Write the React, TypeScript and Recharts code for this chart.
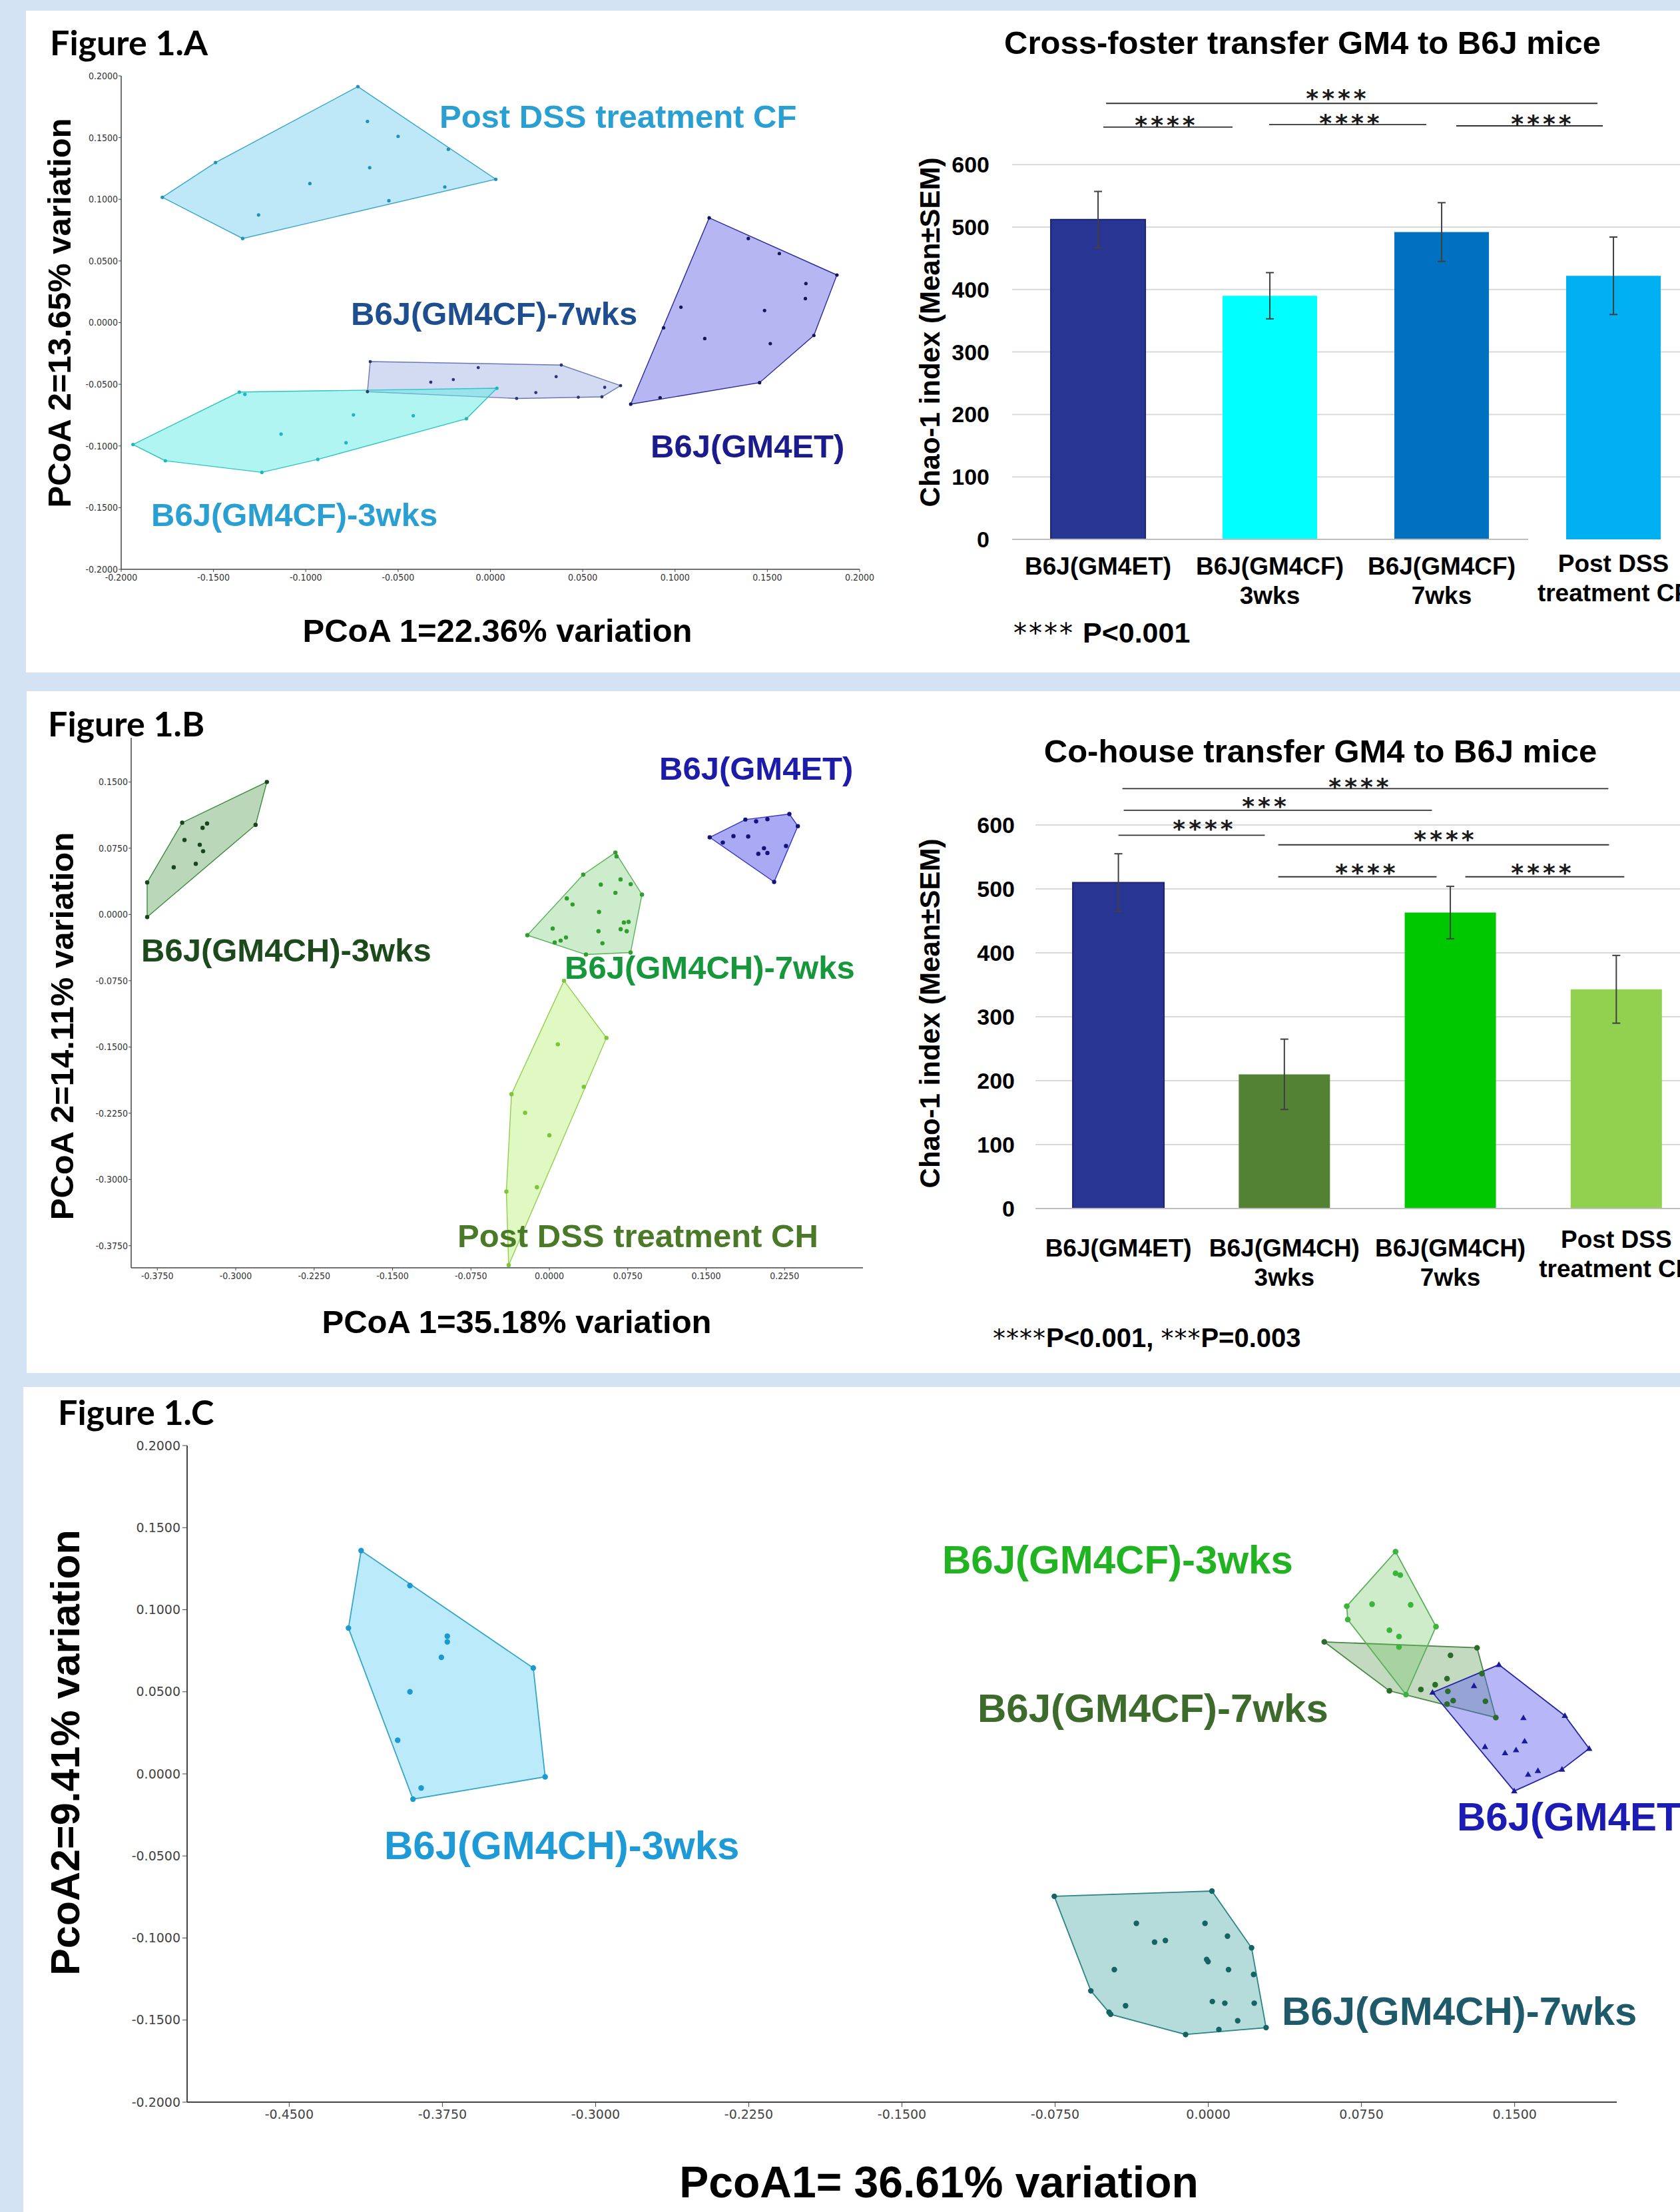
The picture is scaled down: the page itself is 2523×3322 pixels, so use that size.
import React from "react";
import {
  Bar,
  BarChart,
  CartesianGrid,
  Cell,
  ErrorBar,
  ReferenceLine,
  Scatter,
  ScatterChart,
  XAxis,
  YAxis
} from "recharts";

type Pt = [number, number];

// ---------- Figure 1.A : PCoA, cross-foster ----------
const aPostDssCF: Pt[] = [
  [-0.0718, 0.1913], [-0.0666, 0.1631], [-0.05, 0.151], [-0.0228, 0.1405], [0.0029, 0.1162],
  [-0.0247, 0.11], [-0.055, 0.0988], [-0.0654, 0.1256], [-0.0978, 0.1127], [-0.1256, 0.0873],
  [-0.1342, 0.0682], [-0.1777, 0.1016], [-0.1489, 0.1298]
];
const aCF7wks: Pt[] = [
  [-0.0651, -0.0316], [0.0384, -0.0344], [0.0705, -0.0511], [0.0604, -0.0602], [0.0476, -0.0605],
  [0.0142, -0.0615], [-0.0666, -0.056], [-0.0323, -0.0483], [-0.0201, -0.0462], [-0.0066, -0.0365],
  [0.0356, -0.0438], [0.0246, -0.0567], [0.0619, -0.0525]
];
const aET: Pt[] = [
  [0.1185, 0.0849], [0.1397, 0.0682], [0.1565, 0.056], [0.1877, 0.0386], [0.1709, 0.0317],
  [0.1706, 0.0195], [0.1485, 0.0098], [0.1032, 0.0125], [0.0938, -0.0042], [0.1161, -0.0129],
  [0.1516, -0.017], [0.1752, -0.0104], [0.1458, -0.0487], [0.0919, -0.0609], [0.076, -0.0661]
];
const aCF3wks: Pt[] = [
  [-0.136, -0.0563], [-0.133, -0.0581], [0.0035, -0.0532], [-0.013, -0.0779], [-0.0935, -0.1109],
  [-0.1238, -0.1214], [-0.1761, -0.112], [-0.1936, -0.0988], [-0.1134, -0.0904], [-0.0742, -0.0748],
  [-0.0418, -0.0755], [-0.0782, -0.0974]
];
const aTicks = [-0.2, -0.15, -0.1, -0.05, 0, 0.05, 0.1, 0.15, 0.2];

// ---------- Figure 1.A : Chao-1 ----------
const aCats = ["B6J(GM4ET)", "B6J(GM4CF)\n3wks", "B6J(GM4CF)\n7wks", "Post DSS\ntreatment CF"];
const aChao = [512, 390, 492, 422];
const aSem = [45, 37, 47, 62];

// ---------- Figure 1.B : PCoA, co-house ----------
const bCH3wks: Pt[] = [
  [-0.2702, 0.15], [-0.281, 0.1015], [-0.3847, -0.0029], [-0.3847, 0.0363], [-0.3512, 0.1039],
  [-0.3274, 0.1029], [-0.3317, 0.098], [-0.349, 0.0843], [-0.3344, 0.0789], [-0.3312, 0.0716],
  [-0.3382, 0.0574], [-0.3593, 0.0534]
];
const bET: Pt[] = [
  [0.1534, 0.0873], [0.1659, 0.0814], [0.1761, 0.0887], [0.1875, 0.1074], [0.1978, 0.1054],
  [0.2086, 0.1078], [0.2296, 0.1137], [0.2377, 0.1], [0.215, 0.0368], [0.1902, 0.0882],
  [0.2053, 0.075], [0.1999, 0.0686], [0.2086, 0.0696], [0.2264, 0.0775]
];
const bCH7wks: Pt[] = [
  [0.0632, 0.0701], [0.0643, 0.0657], [0.0886, 0.0225], [0.0777, -0.0431], [0.035, -0.0454],
  [-0.021, -0.0235], [0.0324, 0.0451], [0.0492, 0.0338], [0.0681, 0.0397], [0.0778, 0.0343],
  [0.0632, 0.0245], [0.0167, 0.0181], [0.0222, 0.0113], [0.0475, 0.0029], [0.0032, -0.0159],
  [0.0051, -0.0317], [0.0108, -0.0296], [0.0159, -0.026], [0.047, -0.019], [0.0508, -0.0326],
  [0.0682, -0.0167], [0.0713, -0.0091], [0.0758, -0.0084], [0.074, -0.019]
];
const bPostDssCH: Pt[] = [
  [0.014, -0.075], [0.0546, -0.1397], [0.0081, -0.147], [0.033, -0.1951], [-0.0362, -0.2034],
  [-0.0232, -0.2245], [0.0, -0.25], [-0.0411, -0.3137], [-0.0119, -0.3088], [-0.0389, -0.397]
];
const bXTicks = [-0.375, -0.3, -0.225, -0.15, -0.075, 0, 0.075, 0.15, 0.225];
const bYTicks = [-0.375, -0.3, -0.225, -0.15, -0.075, 0, 0.075, 0.15];

// ---------- Figure 1.B : Chao-1 ----------
const bCats = ["B6J(GM4ET)", "B6J(GM4CH)\n3wks", "B6J(GM4CH)\n7wks", "Post DSS\ntreatment CH"];
const bChao = [510, 210, 463, 343];
const bSem = [45, 55, 41, 53];

// ---------- Figure 1.C : PCoA, all groups ----------
const cCH3wks: Pt[] = [
  [-0.4148, 0.136], [-0.3909, 0.1147], [-0.421, 0.0888], [-0.3305, 0.0645], [-0.3247, -0.0018],
  [-0.3894, -0.0154], [-0.3854, -0.0086], [-0.3969, 0.0205], [-0.3909, 0.05], [-0.3755, 0.071],
  [-0.3726, 0.0839], [-0.3726, 0.0804]
];
const cCF3wks: Pt[] = [
  [0.0917, 0.1354], [0.0917, 0.1222], [0.094, 0.1211], [0.0678, 0.1021], [0.0683, 0.094],
  [0.0802, 0.1034], [0.0991, 0.103], [0.1115, 0.0897], [0.0887, 0.0875], [0.0934, 0.0837],
  [0.0934, 0.0773], [0.0968, 0.0483]
];
const cCF7wks: Pt[] = [
  [0.0568, 0.0804], [0.1316, 0.0768], [0.1408, 0.0343], [0.0887, 0.0506], [0.1186, 0.0722],
  [0.1169, 0.058], [0.1111, 0.0543], [0.1041, 0.0514], [0.1173, 0.0503], [0.1199, 0.0446],
  [0.1169, 0.0425], [0.134, 0.0611], [0.1357, 0.0442]
];
const cET: Pt[] = [
  [0.1098, 0.0496], [0.1423, 0.0665], [0.1746, 0.0354], [0.1865, 0.0154], [0.1732, 0.0027],
  [0.1498, -0.0105], [0.1301, 0.0536], [0.1543, 0.0341], [0.1355, 0.0165], [0.1453, 0.0127],
  [0.1507, 0.0145], [0.1549, 0.0199], [0.1566, -0.0004], [0.1614, 0.0019]
];
const cCH7wks: Pt[] = [
  [-0.0754, -0.0746], [0.0018, -0.0714], [0.0212, -0.106], [0.0222, -0.1222], [0.0283, -0.1546],
  [-0.0111, -0.1588], [-0.0478, -0.1465], [-0.0486, -0.1452], [-0.0575, -0.1322], [-0.0352, -0.0911],
  [-0.0016, -0.0911], [0.0094, -0.0989], [-0.0263, -0.1025], [-0.021, -0.1015], [-0.0008, -0.1131],
  [-0.0001, -0.1144], [0.0099, -0.1193], [-0.046, -0.1193], [0.002, -0.1387], [0.0081, -0.1397],
  [0.0225, -0.1397], [-0.0405, -0.1413], [0.0144, -0.1504], [0.0052, -0.1558]
];
const cXTicks = [-0.45, -0.375, -0.3, -0.225, -0.15, -0.075, 0, 0.075, 0.15];
const cYTicks = [-0.2, -0.15, -0.1, -0.05, 0, 0.05, 0.1, 0.15, 0.2];

const chaoTicks = [0, 100, 200, 300, 400, 500, 600];

// significance brackets: from/to on a category index scale (bar i centred on i), y in Chao-1 units
const aBrackets = [
  { from: 0.047, to: 2.907, y: 698, stars: "****" },
  { from: 0.031, to: 0.783, y: 660, stars: "****" },
  { from: 0.996, to: 1.911, y: 664, stars: "****" },
  { from: 2.085, to: 2.938, y: 662, stars: "****" }
];
const bBrackets = [
  { from: 0.024, to: 2.952, y: 657, stars: "****" },
  { from: 0.032, to: 1.889, y: 623, stars: "***" },
  { from: 0.0, to: 0.882, y: 584, stars: "****" },
  { from: 0.963, to: 2.956, y: 569, stars: "****" },
  { from: 0.963, to: 1.917, y: 519, stars: "****" },
  { from: 2.09, to: 3.048, y: 519, stars: "****" }
];

const SANS = "'Liberation Sans', Arial, Helvetica, sans-serif";
const NARROW = "'Liberation Sans Narrow', 'Arial Narrow', 'DejaVu Sans Condensed', sans-serif";
const DEJAVU = "'DejaVu Sans', sans-serif";
const CALIBRI = "Lato, 'Open Sans', sans-serif";
const BG = "#d3e3f3";

function hull(pts: Pt[]) {
  const p = [...pts].sort((a, b) => a[0] - b[0] || a[1] - b[1]);
  const cross = (o: Pt, a: Pt, b: Pt) => (a[0] - o[0]) * (b[1] - o[1]) - (a[1] - o[1]) * (b[0] - o[0]);
  const lower: Pt[] = [];
  for (const q of p) {
    while (lower.length >= 2 && cross(lower[lower.length - 2], lower[lower.length - 1], q) <= 0) lower.pop();
    lower.push(q);
  }
  const upper: Pt[] = [];
  for (const q of [...p].reverse()) {
    while (upper.length >= 2 && cross(upper[upper.length - 2], upper[upper.length - 1], q) <= 0) upper.pop();
    upper.push(q);
  }
  lower.pop();
  upper.pop();
  const h = lower.concat(upper);
  return [...h, h[0]].map(([x, y]) => ({ x, y }));
}

const toXY = (pts: Pt[]) => pts.map(([x, y]) => ({ x, y }));
const fmt4 = (v: number) => v.toFixed(4);
const noShape = () => <g />;

type Group = { pts: Pt[]; fill: string; stroke: string; dot: string; r: number; tri?: boolean };

function marker(g: Group) {
  return (props: any) => {
    const { cx, cy } = props;
    if (g.tri) {
      const r = g.r;
      return <path d={`M${cx},${cy - r * 1.2}L${cx + r * 1.15},${cy + r * 0.8}L${cx - r * 1.15},${cy + r * 0.8}Z`} fill={g.dot} />;
    }
    return <circle cx={cx} cy={cy} r={g.r} fill={g.dot} />;
  };
}

type Margin = { top: number; right: number; bottom: number; left: number };

type PcoaProps = {
  left: number;
  top: number;
  width: number;
  height: number;
  margin: Margin;
  xDomain: [number, number];
  yDomain: [number, number];
  xTicks: number[];
  yTicks: number[];
  groups: Group[];
  small?: boolean;
};

function Pcoa({ left, top, width, height, margin, xDomain, yDomain, xTicks, yTicks, groups, small = true }: PcoaProps) {
  const tick = small
    ? { fontSize: 14, fill: "#333", fontFamily: NARROW }
    : { fontSize: 19, fill: "#444", fontFamily: DEJAVU };
  const axis = { stroke: "#444", strokeWidth: small ? 1.5 : 2 };
  return (
    <div style={{ position: "absolute", left, top }}>
      <ScatterChart width={width} height={height} margin={margin}>
        <XAxis
          type="number"
          dataKey="x"
          domain={xDomain}
          ticks={xTicks}
          interval={0}
          allowDataOverflow
          tickFormatter={fmt4}
          tick={tick}
          axisLine={axis}
          tickLine={{ stroke: "#444" }}
          tickSize={small ? 4 : 7}
          tickMargin={small ? 3 : 5}
          height={small ? 30 : 40}
        />
        <YAxis
          type="number"
          dataKey="y"
          domain={yDomain}
          ticks={yTicks}
          interval={0}
          allowDataOverflow
          tickFormatter={fmt4}
          tick={tick}
          axisLine={axis}
          tickLine={{ stroke: "#444" }}
          tickSize={small ? 4 : 7}
          tickMargin={small ? 1 : 3}
          width={small ? 80 : 110}
        />
        {groups.map((g, i) => (
          <Scatter
            key={`hull-${i}`}
            data={hull(g.pts)}
            line={{ stroke: g.stroke, strokeWidth: small ? 1.4 : 1.8, fill: g.fill }}
            lineType="joint"
            shape={noShape}
            isAnimationActive={false}
          />
        ))}
        {groups.map((g, i) => (
          <Scatter key={`pts-${i}`} data={toXY(g.pts)} shape={marker(g)} isAnimationActive={false} />
        ))}
      </ScatterChart>
    </div>
  );
}

function CatTick(props: any) {
  const { x, y, payload, index, first, gap, shift } = props;
  const lines = String(payload.value).split("\n");
  const d = first + (index === 3 ? shift : 0);
  return (
    <g>
      {lines.map((l: string, i: number) => (
        <text
          key={i}
          x={x}
          y={y + d + i * gap}
          textAnchor="middle"
          dominantBaseline="central"
          style={{ fontFamily: SANS, fontSize: 37, fontWeight: 700, fill: "#000" }}
        >
          {l}
        </text>
      ))}
    </g>
  );
}

const Y_AXIS_W = 120;
const X_AXIS_H = 150;

type ChaoProps = {
  left: number;
  top: number;
  cats: string[];
  values: number[];
  sems: number[];
  colors: string[];
  margin: Margin;
  width: number;
  brackets: { from: number; to: number; y: number }[];
  tickMargin: number;
  first: number;
  shift: number;
  shortBase?: number;
};

function Chao({ left, top, cats, values, sems, colors, margin, width, brackets, tickMargin, first, shift, shortBase }: ChaoProps) {
  const data = cats.map((name, i) => ({ name, v: values[i], e: sems[i] }));
  const short = shortBase !== undefined;
  // overlay with a numeric x scale over the same plot box, for brackets and the baseline
  const overlayMargin = {
    top: margin.top,
    right: margin.right,
    bottom: margin.bottom + X_AXIS_H,
    left: margin.left + Y_AXIS_W
  };
  return (
    <>
      <div style={{ position: "absolute", left, top }}>
        <BarChart width={width} height={1000} data={data} margin={margin} barCategoryGap="22.5%">
          <CartesianGrid
            vertical={false}
            stroke="#d9d9d9"
            strokeWidth={2}
            horizontalValues={short ? chaoTicks.slice(1) : chaoTicks}
          />
          <XAxis
            dataKey="name"
            interval={0}
            tickLine={false}
            tickSize={0}
            tickMargin={0}
            axisLine={short ? false : { stroke: "#bfbfbf", strokeWidth: 2 }}
            tick={(p: any) => <CatTick {...p} first={first} gap={44} shift={shift} />}
            height={X_AXIS_H}
          />
          <YAxis
            domain={[0, 720]}
            ticks={chaoTicks}
            interval={0}
            allowDataOverflow
            axisLine={false}
            tickLine={false}
            tickSize={0}
            tickMargin={tickMargin}
            width={Y_AXIS_W}
            tick={{ fontSize: 34, fontWeight: 700, fill: "#000", fontFamily: SANS }}
          />
          <Bar dataKey="v" isAnimationActive={false}>
            {data.map((d, i) => (
              <Cell key={d.name} fill={colors[i]} stroke={i === 0 ? "#1b2472" : colors[i]} strokeWidth={i === 0 ? 2 : 0} />
            ))}
            <ErrorBar dataKey="e" width={6} stroke="#404040" strokeWidth={2} direction="y" isAnimationActive={false} />
          </Bar>
        </BarChart>
      </div>
      <div style={{ position: "absolute", left, top }}>
        <ScatterChart width={width} height={1000} margin={overlayMargin}>
          <XAxis type="number" dataKey="x" domain={[-0.5, 3.5]} allowDataOverflow hide />
          <YAxis type="number" dataKey="y" domain={[0, 720]} allowDataOverflow hide />
          {short && (
            <ReferenceLine
              segment={[{ x: -0.5, y: 0 }, { x: shortBase, y: 0 }]}
              stroke="#bfbfbf"
              strokeWidth={2}
              ifOverflow="visible"
            />
          )}
          {brackets.map((b, i) => (
            <ReferenceLine
              key={i}
              segment={[{ x: b.from, y: b.y }, { x: b.to, y: b.y }]}
              stroke="#333"
              strokeWidth={1.8}
              ifOverflow="visible"
            />
          ))}
        </ScatterChart>
      </div>
    </>
  );
}

type TxtProps = {
  x: number;
  y: number;
  size: number;
  children: React.ReactNode;
  color?: string;
  middle?: boolean;
  rotate?: boolean;
  family?: string;
  weight?: number;
};

function Txt({ x, y, size, children, color = "#000", middle = false, rotate = false, family = SANS, weight = 700 }: TxtProps) {
  const tx = middle || rotate ? "-50%" : "0";
  return (
    <div
      style={{
        position: "absolute",
        left: x,
        top: y,
        transform: `translate(${tx}, -50%)${rotate ? " rotate(-90deg)" : ""}`,
        fontFamily: family,
        fontSize: size,
        fontWeight: weight,
        color,
        lineHeight: 1,
        whiteSpace: "nowrap"
      }}
    >
      {children}
    </div>
  );
}

// asterisk group centred on the glyphs at (x, y)
function Stars({ x, y, text }: { x: number; y: number; text: string }) {
  return (
    <div
      style={{
        position: "absolute",
        left: x + 3,
        top: y + 8,
        transform: "translate(-50%, -50%)",
        fontFamily: DEJAVU,
        fontSize: 36,
        fontWeight: 700,
        letterSpacing: 5,
        lineHeight: 1,
        color: "#1a1a1a",
        whiteSpace: "nowrap"
      }}
    >
      {text}
    </div>
  );
}

const aStarPos = [
  [2006, 140],
  [1749, 180],
  [2026, 177],
  [2314, 178]
];
const bStarPos = [
  [2040, 1174],
  [1898, 1203],
  [1806, 1237],
  [2168, 1253],
  [2050, 1303],
  [2314, 1303]
];

export default function App() {
  const groupsA: Group[] = [
    { pts: aPostDssCF, fill: "rgba(110,205,240,0.45)", stroke: "#38a6c8", dot: "#1f93b6", r: 2.6 },
    { pts: aCF7wks, fill: "rgba(150,170,225,0.42)", stroke: "#6a78b4", dot: "#2c3570", r: 2.4 },
    { pts: aET, fill: "rgba(110,110,230,0.5)", stroke: "#2b2b9a", dot: "#15155a", r: 2.6 },
    { pts: aCF3wks, fill: "rgba(100,235,230,0.5)", stroke: "#2cc5c2", dot: "#1fb6bd", r: 2.6 }
  ];
  const groupsB: Group[] = [
    { pts: bCH3wks, fill: "rgba(90,160,90,0.42)", stroke: "#3b8a3b", dot: "#18461a", r: 3.2 },
    { pts: bET, fill: "rgba(100,100,235,0.55)", stroke: "#3434c2", dot: "#141478", r: 3.2 },
    { pts: bCH7wks, fill: "rgba(120,205,120,0.38)", stroke: "#5ab45a", dot: "#2f9e2f", r: 3.2 },
    { pts: bPostDssCH, fill: "rgba(180,240,110,0.42)", stroke: "#8fd04c", dot: "#7cc43a", r: 3.2 }
  ];
  const groupsC: Group[] = [
    { pts: cCH3wks, fill: "rgba(120,215,245,0.5)", stroke: "#35a5c8", dot: "#1a9ad0", r: 4.2 },
    { pts: cCH7wks, fill: "rgba(90,175,175,0.45)", stroke: "#2b8585", dot: "#146464", r: 4.2 },
    { pts: cCF7wks, fill: "rgba(70,140,60,0.32)", stroke: "#4a8a44", dot: "#2b6b2b", r: 4.3 },
    { pts: cCF3wks, fill: "rgba(110,200,100,0.34)", stroke: "#5cb05c", dot: "#3cb43c", r: 4.3 },
    { pts: cET, fill: "rgba(95,95,240,0.45)", stroke: "#2424a8", dot: "#1a1a9a", r: 4.2, tri: true }
  ];

  return (
    <div
      style={{
        position: "absolute",
        left: 0,
        top: 0,
        width: 2523,
        height: 3322,
        overflow: "hidden",
        background: BG
      }}
    >
      <div style={{ position: "absolute", left: 39, top: 16, width: 2484, height: 994, background: "#fff" }} />
      <div style={{ position: "absolute", left: 40, top: 1038, width: 2483, height: 1024, background: "#fff" }} />
      <div style={{ position: "absolute", left: 35, top: 2083, width: 2488, height: 1239, background: "#fff" }} />

      {/* Figure 1.A */}
      <Pcoa
        left={0}
        top={0}
        width={1330}
        height={1000}
        margin={{ top: 114, right: 39, bottom: 115, left: 102 }}
        xDomain={[-0.2, 0.2]}
        yDomain={[-0.2, 0.2]}
        xTicks={aTicks}
        yTicks={aTicks}
        groups={groupsA}
      />
      <Chao
        left={1330}
        top={0}
        cats={aCats}
        values={aChao}
        sems={aSem}
        colors={["#283593", "#00ffff", "#0070c0", "#00b0f0"]}
        margin={{ top: 134.6, right: 20, bottom: 40, left: 70 }}
        width={1242}
        brackets={aBrackets}
        tickMargin={34}
        first={40}
        shift={-4}
        shortBase={2.504}
      />

      {/* Figure 1.B */}
      <Pcoa
        left={0}
        top={1030}
        width={1330}
        height={1000}
        margin={{ top: 78, right: 34, bottom: 96, left: 117 }}
        xDomain={[-0.4, 0.3]}
        yDomain={[-0.4, 0.2]}
        xTicks={bXTicks}
        yTicks={bYTicks}
        groups={groupsB}
      />
      <Chao
        left={1330}
        top={1030}
        cats={bCats}
        values={bChao}
        sems={bSem}
        colors={["#283593", "#548235", "#00c800", "#92d050"]}
        margin={{ top: 93.8, right: 20, bottom: 65, left: 105 }}
        width={1242}
        brackets={bBrackets}
        tickMargin={31}
        first={59}
        shift={-13}
      />

      {/* Figure 1.C */}
      <Pcoa
        left={0}
        top={2080}
        width={2523}
        height={1242}
        margin={{ top: 91, right: 95, bottom: 125, left: 171 }}
        xDomain={[-0.5, 0.2]}
        yDomain={[-0.2, 0.2]}
        xTicks={cXTicks}
        yTicks={cYTicks}
        groups={groupsC}
        small={false}
      />

      {/* text, panel A */}
      <Txt x={75} y={63} size={52} family={CALIBRI}>Figure 1.A</Txt>
      <Txt x={660} y={175} size={49} color="#2a9fd2">Post DSS treatment CF</Txt>
      <Txt x={527} y={471} size={49} color="#1f4e8e">B6J(GM4CF)-7wks</Txt>
      <Txt x={977} y={670} size={49} color="#1b1b8c">B6J(GM4ET)</Txt>
      <Txt x={227} y={773} size={49} color="#2a9fd2">B6J(GM4CF)-3wks</Txt>
      <Txt x={89} y={470} size={49} rotate>PCoA 2=13.65% variation</Txt>
      <Txt x={747} y={947} size={49} middle>PCoA 1=22.36% variation</Txt>
      <Txt x={1956} y={64} size={49} middle>Cross-foster transfer GM4 to B6J mice</Txt>
      <Txt x={1397} y={499} size={42} rotate>Chao-1 index (Mean±SEM)</Txt>
      <Txt x={1522} y={950} size={43}>
        <span style={{ fontFamily: DEJAVU, fontWeight: 400, fontSize: 40, letterSpacing: 3 }}>****</span> P&lt;0.001
      </Txt>
      {aBrackets.map((b, i) => (
        <Stars key={i} x={aStarPos[i][0]} y={aStarPos[i][1]} text={b.stars} />
      ))}

      {/* text, panel B */}
      <Txt x={72} y={1086} size={52} family={CALIBRI}>Figure 1.B</Txt>
      <Txt x={990} y={1154} size={49} color="#1c1ca8">B6J(GM4ET)</Txt>
      <Txt x={212} y={1427} size={49} color="#1d4a1d">B6J(GM4CH)-3wks</Txt>
      <Txt x={848} y={1453} size={49} color="#17973b">B6J(GM4CH)-7wks</Txt>
      <Txt x={687} y={1856} size={49} color="#4a7a28">Post DSS treatment CH</Txt>
      <Txt x={93} y={1541} size={49} rotate>PCoA 2=14.11% variation</Txt>
      <Txt x={776} y={1985} size={49} middle>PCoA 1=35.18% variation</Txt>
      <Txt x={1983} y={1128} size={49} middle>Co-house transfer GM4 to B6J mice</Txt>
      <Txt x={1397} y={1522} size={42} rotate>Chao-1 index (Mean±SEM)</Txt>
      <Txt x={1491} y={2009} size={40}>
        <span style={{ fontFamily: DEJAVU, fontWeight: 400, fontSize: 38, letterSpacing: 1 }}>****</span>P&lt;0.001,{" "}
        <span style={{ fontFamily: DEJAVU, fontWeight: 400, fontSize: 38, letterSpacing: 1 }}>***</span>P=0.003
      </Txt>
      {bBrackets.map((b, i) => (
        <Stars key={i} x={bStarPos[i][0]} y={bStarPos[i][1]} text={b.stars} />
      ))}

      {/* text, panel C */}
      <Txt x={87} y={2120} size={52} family={CALIBRI}>Figure 1.C</Txt>
      <Txt x={577} y={2772} size={60} color="#1e9bd7">B6J(GM4CH)-3wks</Txt>
      <Txt x={1415} y={2343} size={60} color="#22b322">B6J(GM4CF)-3wks</Txt>
      <Txt x={1468} y={2566} size={60} color="#3c6b2c">B6J(GM4CF)-7wks</Txt>
      <Txt x={2188} y={2729} size={60} color="#1c1cb5">B6J(GM4ET)</Txt>
      <Txt x={1925} y={3021} size={60} color="#1f5a6a">B6J(GM4CH)-7wks</Txt>
      <Txt x={98} y={2632} size={61} rotate>PcoA2=9.41% variation</Txt>
      <Txt x={1410} y={3277} size={66} middle>PcoA1= 36.61% variation</Txt>
    </div>
  );
}
